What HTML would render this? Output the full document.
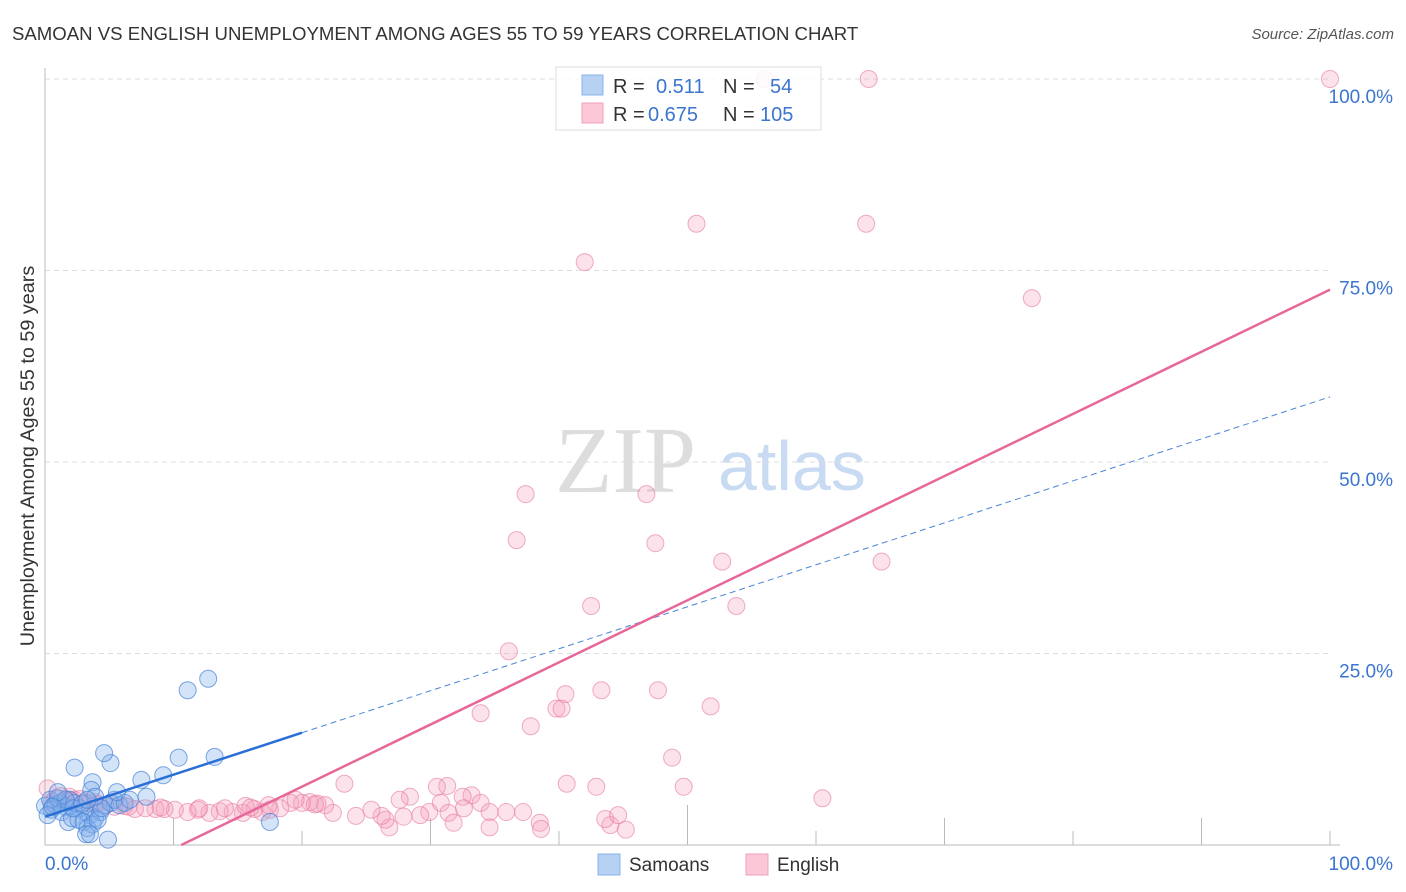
<!DOCTYPE html>
<html><head><meta charset="utf-8"><style>
body{margin:0;background:#fff;font-family:"Liberation Sans",sans-serif;}
#wrap{position:relative;width:1406px;height:892px;overflow:hidden;}
</style></head><body>
<div id="wrap">
<svg id="svg" width="1406" height="892" xmlns="http://www.w3.org/2000/svg">
<text x="12" y="40" font-size="18.6" fill="#333">SAMOAN VS ENGLISH UNEMPLOYMENT AMONG AGES 55 TO 59 YEARS CORRELATION CHART</text>
<text x="1394" y="39" font-size="15" fill="#555" font-style="italic" text-anchor="end">Source: ZipAtlas.com</text>
<text x="555" y="492" font-size="94" fill="#ddd" font-family="Liberation Serif,serif">ZIP</text>
<text x="718" y="490" font-size="70" fill="#c8dbf2">atlas</text>
<text transform="translate(34,456) rotate(-90)" font-size="19.8" fill="#333" text-anchor="middle">Unemployment Among Ages 55 to 59 years</text>
<g id="grid"></g><g id="marks"></g>
<rect x="556" y="67" width="265" height="63" fill="#fff" fill-opacity="0.85" stroke="#ddd"/>
<g>
<rect x="582" y="75" width="21" height="20" fill="#b7d1f3" stroke="#8ab3e8"/>
<text x="613" y="93" font-size="20" fill="#333">R =</text><text x="656" y="93" font-size="20" fill="#3a75d0">0.511</text>
<text x="723" y="93" font-size="20" fill="#333">N =</text><text x="770" y="93" font-size="20" fill="#3a75d0">54</text></g>
<g>
<rect x="582" y="103" width="21" height="20" fill="#fcc8d8" stroke="#f0a0b8"/>
<text x="613" y="121" font-size="20" fill="#333">R =</text><text x="648" y="121" font-size="20" fill="#3a75d0">0.675</text>
<text x="723" y="121" font-size="20" fill="#333">N =</text><text x="760" y="121" font-size="20" fill="#3a75d0">105</text></g>
<g><rect x="598" y="854" width="22" height="21" fill="#b7d1f3" stroke="#8ab3e8"/><text x="629" y="871" font-size="19" fill="#333">Samoans</text></g>
<g><rect x="746" y="854" width="22" height="21" fill="#fcc8d8" stroke="#f0a0b8"/><text x="777" y="871" font-size="19" fill="#333">English</text></g>
</svg></div>
<script>
const yTicks=[25,50,75,100];
const yTickLabels=["25.0%","50.0%","75.0%","100.0%"];
const xTicks=[0,10,20,30,40,50,60,70,80,90,100];
const blueX=[0,0.4,0.8,1.2,1.6,1.9,2.3,2.7,3.1,3.5,3.9,4.3,4.7,5.1,5.4,5.8,6.2,0.5,1.0,1.3,1.8,2.1,2.6,3.0,3.3,3.7,4.1,3.2,3.5,4.9,2.3,3.7,5.1,4.6,3.6,5.6,7.5,9.2,7.9,10.4,13.2,11.1,12.7,17.5,0.2,1.6,2.2,2.9,4.4,6.6,3.9,1.0,3.3,0.6];
const blueY=[5.1,5.9,5.2,5.5,5.0,5.9,5.5,4.8,4.3,3.9,3.5,4.3,5.2,5.5,5.9,5.2,5.5,4.6,6.1,4.3,3.0,3.5,3.3,3.0,2.2,2.7,3.3,1.4,1.4,0.7,10.1,8.2,10.7,12.0,7.2,6.9,8.5,9.1,6.3,11.4,11.5,20.2,21.7,3.0,3.9,5.9,4.8,5.4,4.8,5.9,6.3,6.9,5.9,5.0];
const pinkX=[64.1,100,56.0,50.7,63.9,42.0,76.8,37.4,46.8,36.7,47.5,52.7,65.1,42.5,53.8,36.1,43.3,47.7,40.5,39.8,40.2,51.8,33.9,37.8,48.8,49.7,60.5,40.6,42.9,31.3,23.3,28.4,33.2,32.5,30.8,33.9,35.9,34.6,32.6,31.4,29.9,29.2,27.9,26.8,26.5,26.2,24.2,25.4,22.4,21.8,21.2,20.6,20.0,19.1,18.3,17.5,16.9,16.3,15.4,14.6,13.6,12.8,11.9,11.1,10.1,9.3,8.6,7.8,7.0,6.2,5.4,4.7,3.9,3.1,2.3,1.6,0.8,0.2,1.2,1.9,2.7,3.5,14.0,15.6,17.4,19.5,31.8,34.6,38.5,38.6,44.0,45.2,43.6,44.6,37.2,27.6,30.5,0.5,2.0,4.0,6.5,9.0,12.0,16.0,21.0];
const pinkY=[100,100,100,81.1,81.1,76.1,71.4,45.8,45.8,39.8,39.4,37.0,37.0,31.2,31.2,25.3,20.2,20.2,19.7,17.8,17.8,18.1,17.2,15.5,11.4,7.6,6.1,8.0,7.6,7.7,8.0,6.3,6.5,6.3,5.5,5.5,4.3,4.3,4.8,4.2,4.3,3.9,3.7,2.3,3.3,3.8,3.8,4.6,4.2,5.2,5.4,5.6,5.5,5.5,4.8,4.6,4.3,4.7,4.2,4.3,4.4,4.2,4.6,4.3,4.6,4.7,4.7,4.8,4.7,5.1,5.0,5.2,5.6,5.6,5.9,6.0,6.1,7.4,6.4,6.3,6.0,5.5,4.8,5.1,5.2,5.9,2.9,2.3,2.9,2.1,2.6,2.0,3.4,3.9,4.3,5.9,7.6,5.5,5.8,5.3,5.0,4.9,4.8,4.9,5.3];
const blueFit=[3.7,58.5];
const pinkFit=[-8.6,72.5];
const X=v=>45+v*12.85, Y=v=>845-v*7.66;
const NS="http://www.w3.org/2000/svg";
function mk(t,a,p){const e=document.createElementNS(NS,t);for(const k in a)e.setAttribute(k,a[k]);p.appendChild(e);return e;}
const g=document.getElementById('grid'), m=document.getElementById('marks');
yTicks.forEach((t,i)=>{
 const l=mk('line',{x1:45,x2:1330,y1:Y(t),y2:Y(t),stroke:'#ddd','stroke-dasharray':'5,4'},g);
 
 
 const tx=mk('text',{x:1393,y:Y(t)+24,'font-size':19,fill:'#3a75d0','text-anchor':'end'},g);
 tx.textContent=yTickLabels[i];
 
 
});
xTicks.forEach(t=>{
 const l=mk('line',{x1:X(t),x2:X(t),y1:(t==50?805:t%20==0?831:818),y2:845,stroke:'#bbb'},g);
 
 
});
const ax=mk('path',{d:'M45,68 V845 H1340',stroke:'#bbb',fill:'none'},g);


const xl0=mk('text',{x:45,y:870,'font-size':19,fill:'#3a75d0'},g);xl0.textContent='0.0%';


const xl1=mk('text',{x:1393,y:870,'font-size':19,fill:'#3a75d0','text-anchor':'end'},g);xl1.textContent='100.0%';


pinkX.forEach((x,i)=>{
 const c=mk('circle',{cx:X(x),cy:Y(pinkY[i]),r:8.5,fill:'rgba(245,160,190,0.3)',stroke:'rgba(230,120,160,0.6)'},m);
 
 
});
blueX.forEach((x,i)=>{
 const c=mk('circle',{cx:X(x),cy:Y(blueY[i]),r:8.5,fill:'rgba(130,175,235,0.35)',stroke:'rgba(70,130,215,0.7)'},m);
 
 
});
const bAt=x=>blueFit[0]+(blueFit[1]-blueFit[0])*x/100;
const b1=mk('line',{x1:X(0),y1:Y(bAt(0)),x2:X(20),y2:Y(bAt(20)),stroke:'#2a6fd6','stroke-width':2.5},m);


const b2=mk('line',{x1:X(20),y1:Y(bAt(20)),x2:X(100),y2:Y(bAt(100)),stroke:'#4a85d8','stroke-width':1,'stroke-dasharray':'6,4'},m);


const x0=-pinkFit[0]/(pinkFit[1]-pinkFit[0])*100;
const p1=mk('line',{x1:X(x0),y1:Y(0),x2:X(100),y2:Y(pinkFit[1]),stroke:'#e8679a','stroke-width':2.5},m);


</script>
</body></html>
